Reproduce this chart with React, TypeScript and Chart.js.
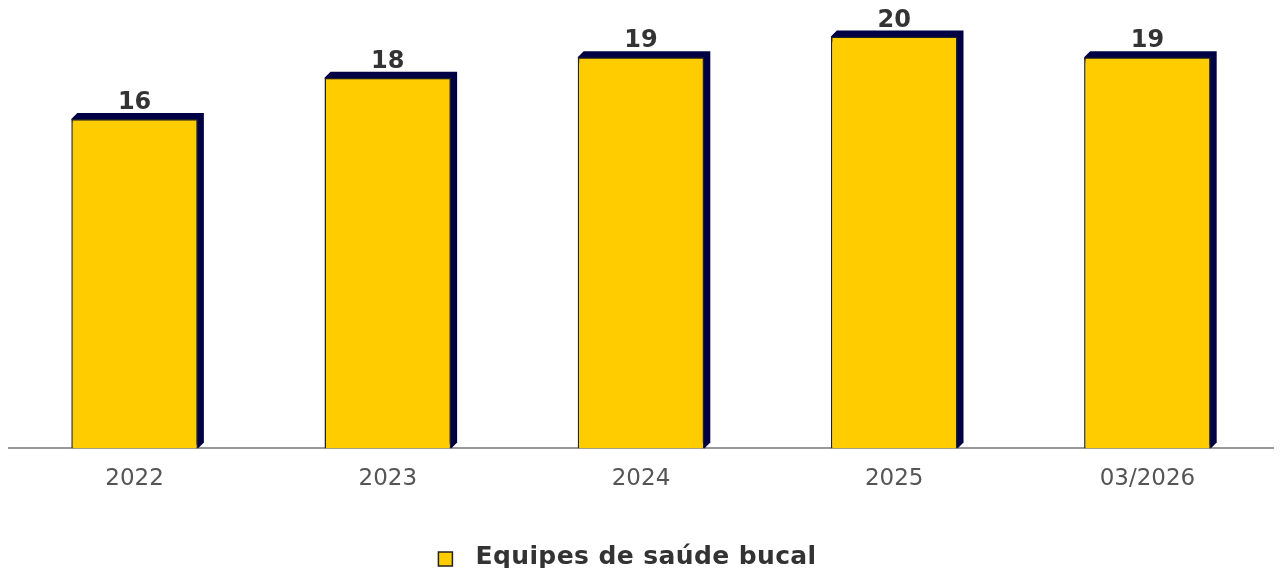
import React, { useEffect, useRef } from "react";
import { Chart, registerables } from "chart.js";

Chart.register(...registerables);

const categories = ["2022", "2023", "2024", "2025", "03/2026"];
const seriesLabel = "Equipes de saúde bucal";
const values = [16, 18, 19, 20, 19];

const FONT = "'DejaVu Sans', sans-serif";
const BAR_COLOR = "#FFCC00";

const shadowPlugin = {
  id: "barShadow",
  beforeDatasetsDraw(chart: any) {
    const ctx = chart.ctx;
    const meta = chart.getDatasetMeta(0);
    const d = 6;
    ctx.save();
    ctx.fillStyle = "#000044";
    meta.data.forEach((bar: any) => {
      const left = bar.x - bar.width / 2;
      const right = bar.x + bar.width / 2;
      const top = bar.y;
      const base = bar.base;
      ctx.beginPath();
      ctx.moveTo(left, top);
      ctx.lineTo(left + d, top - d);
      ctx.lineTo(right + d, top - d);
      ctx.lineTo(right + d, base - d);
      ctx.lineTo(right, base);
      ctx.closePath();
      ctx.fill();
    });
    ctx.restore();
  },
  afterDatasetsDraw(chart: any) {
    const ctx = chart.ctx;
    const meta = chart.getDatasetMeta(0);
    ctx.save();
    ctx.fillStyle = "#333333";
    ctx.font = `bold 24px ${FONT}`;
    ctx.textAlign = "center";
    ctx.textBaseline = "alphabetic";
    meta.data.forEach((bar: any, i: number) => {
      ctx.fillText(String(values[i]), bar.x, bar.y - 10);
    });
    ctx.restore();
  },
  afterDraw(chart: any) {
    const ctx = chart.ctx;
    ctx.save();
    ctx.font = `bold 25px ${FONT}`;
    (ctx as any).letterSpacing = "0.4px";
    const textW = ctx.measureText(seriesLabel).width;
    const box = 14;
    const gap = 23;
    const totalW = box + gap + textW;
    const startX = chart.width / 2 - totalW / 2 - 13.5;
    const baseline = chart.height - 12;
    ctx.fillStyle = BAR_COLOR;
    ctx.fillRect(startX, baseline - 12, box, box);
    ctx.strokeStyle = "#222222";
    ctx.lineWidth = 1.5;
    ctx.strokeRect(startX, baseline - 12, box, box);
    ctx.fillStyle = "#333333";
    ctx.textAlign = "left";
    ctx.textBaseline = "alphabetic";
    ctx.fillText(seriesLabel, startX + box + gap, baseline);
    ctx.restore();
  },
};

export default function App() {
  const ref = useRef<HTMLCanvasElement>(null);
  useEffect(() => {
    if (!ref.current) return;
    const chart = new Chart(ref.current, {
      type: "bar",
      data: {
        labels: categories,
        datasets: [
          {
            label: seriesLabel,
            data: values,
            backgroundColor: BAR_COLOR,
            borderColor: "#222222",
            borderWidth: 1.5,
            categoryPercentage: 1,
            barPercentage: 0.5,
          },
        ],
      },
      options: {
        animation: false,
        responsive: true,
        maintainAspectRatio: false,
        layout: { padding: { top: 16, left: 0, right: 0, bottom: 66 } },
        scales: {
          x: {
            grid: { display: false, drawTicks: false },
            border: { display: true, color: "#999999", width: 2 },
            ticks: {
              color: "#555555",
              font: { family: FONT, size: 23 },
              padding: 17,
            },
          },
          y: {
            display: false,
            min: 0,
            max: 21,
          },
        },
        plugins: {
          legend: { display: false },
          tooltip: { enabled: false },
        },
      },
      plugins: [shadowPlugin],
    });
    return () => chart.destroy();
  }, []);
  return (
    <div style={{ width: 1266, height: 576, marginTop: -8, marginBottom: -8 }}>
      <canvas ref={ref} />
    </div>
  );
}
